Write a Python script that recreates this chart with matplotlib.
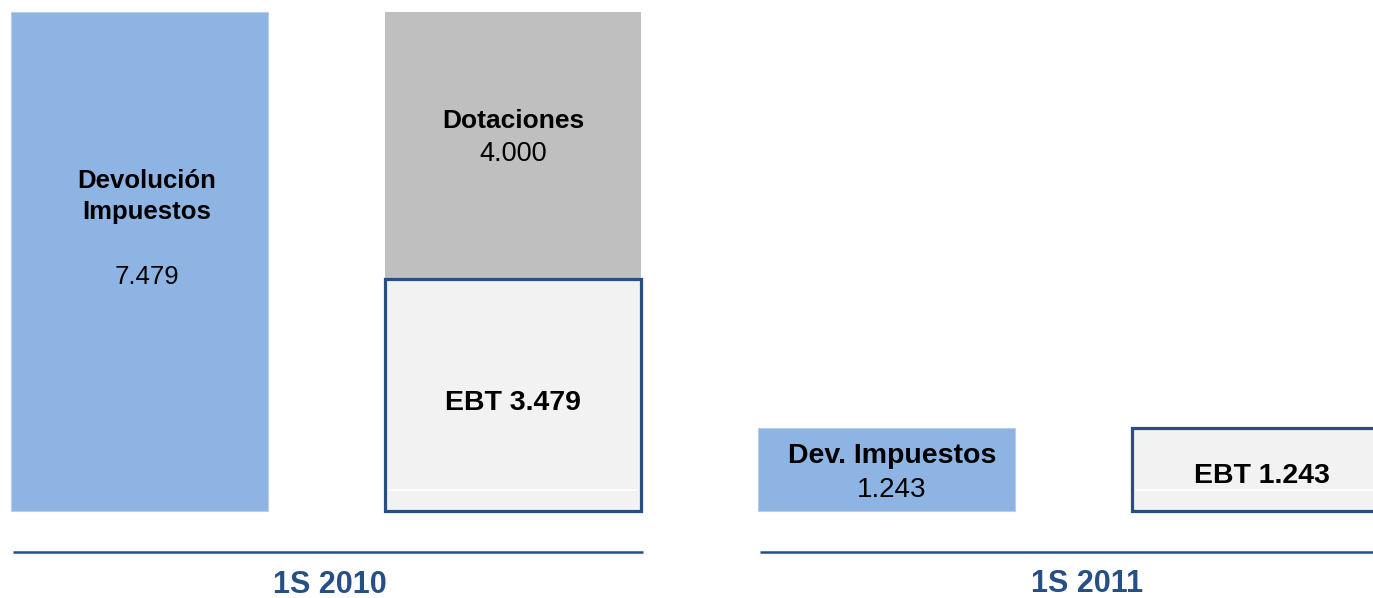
import matplotlib
matplotlib.use("Agg")
import matplotlib.pyplot as plt

plt.rcParams['font.family'] = ['Liberation Sans', 'DejaVu Sans']

# Data
periods = ["1S 2010", "1S 2011"]
dev_labels = ["Devolución\nImpuestos", "Dev. Impuestos"]
dev_values = [7479, 1243]
dot_label = "Dotaciones"
dot_value = 4000
ebt_values = [3479, 1243]

def fmt(v):
    return f"{v:,}".replace(",", ".")

BLUE = "#8EB4E3"
GRAY = "#BFBFBF"
LIGHT = "#F2F2F2"
DARK = "#254F85"

fig = plt.figure(figsize=(13.73, 5.98), dpi=100)
ax = fig.add_axes([0, 0, 1, 1])
ax.set_xlim(-0.3735, 3.3025)
ax.set_ylim(-1304, 7659)
ax.axis('off')

w = 0.688
dev_x = [0, 2]
ebt_x = [1, 3]

ax.bar(dev_x, dev_values, width=w, color=BLUE, edgecolor="#B8CFEC", linewidth=0.8, zorder=2)
ax.bar([ebt_x[0]], [dot_value], bottom=[ebt_values[0]], width=w, color=GRAY, linewidth=0, zorder=2)
ax.bar(ebt_x, ebt_values, width=w, color=LIGHT, edgecolor=DARK, linewidth=2.3, zorder=3)
for x in ebt_x:
    ax.hlines(315, x - w/2 + 0.01, x + w/2 - 0.01, color="white", linewidth=1.2, zorder=4)

ax.text(dev_x[0] + 0.02, 4714, dev_labels[0], ha='center', va='center', fontsize=18.5,
        fontweight='bold', linespacing=1.36, zorder=5)
ax.text(dev_x[0] + 0.02, 3510, fmt(dev_values[0]), ha='center', va='center', fontsize=18.5, zorder=5)

ax.text(ebt_x[0], 5850, dot_label, ha='center', va='center', fontsize=19, fontweight='bold', zorder=5)
ax.text(ebt_x[0], 5350, fmt(dot_value), ha='center', va='center', fontsize=19.5, zorder=5)
ax.text(ebt_x[0], 1620, f"EBT {fmt(ebt_values[0])}", ha='center', va='center', fontsize=20.5,
        fontweight='bold', zorder=5)

ax.text(dev_x[1] + 0.015, 825, dev_labels[1], ha='center', va='center', fontsize=20.5,
        fontweight='bold', zorder=5)
ax.text(dev_x[1] + 0.015, 315, fmt(dev_values[1]), ha='center', va='center', fontsize=20, zorder=5)
ax.text(ebt_x[1] + 0.005, 525, f"EBT {fmt(ebt_values[1])}", ha='center', va='center', fontsize=20.5,
        fontweight='bold', zorder=5)

ax.hlines(-614, -0.339, 1.348, color=DARK, linewidth=1.8)
ax.hlines(-614, 1.661, 3.31, color=DARK, linewidth=1.8)
ax.text(0.51, -1110, periods[0], ha='center', va='center', fontsize=22, fontweight='bold', color=DARK)
ax.text(2.537, -1095, periods[1], ha='center', va='center', fontsize=22, fontweight='bold', color=DARK)

fig.savefig("out.png", dpi=100)
